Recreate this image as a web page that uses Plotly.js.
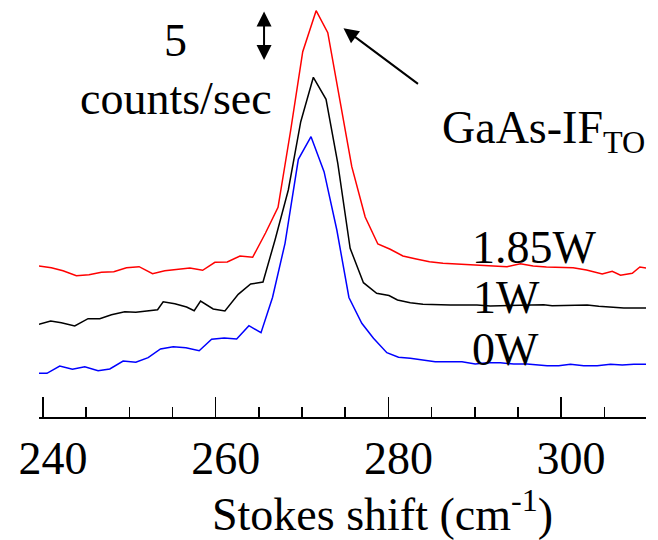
<!DOCTYPE html>
<html>
<head>
<meta charset="utf-8">
<script src="https://cdn.plot.ly/plotly-3.0.1.min.js"></script>
<style>html,body{margin:0;padding:0;background:#fff;}#chart{width:658px;height:540px;}</style>
</head>
<body>
<div id="chart"></div>
<script>
// Stokes shift (cm^-1) sample positions, read per series
const xRed = [239.54,240.97,242.32,243.87,245.33,246.77,248.2,249.67,251.13,252.69,254.11,255.54,257.01,258.49,259.91,261.34,262.81,264.28,265.77,267.22,268.67,270.08,271.63,272.98,274.41,275.76,277.31,278.78,280.21,281.68,283.22,284.76,286.32,287.86,289.4,290.84,292.38,293.74,295.28,296.76,298.3,299.84,301.39,302.94,304.76,305.92,306.88,308.24,309.12,309.86];
const yRed = [15.1,14.93,14.63,14.13,14.23,14.47,14.53,14.93,15.03,14.33,14.63,14.8,14.9,14.67,15.47,15.5,16.1,15.97,18.4,20.97,28.6,36.53,40.63,38.43,31.7,25.03,20.0,17.3,16.77,16.1,15.8,15.53,15.37,15.3,15.23,15.2,15.13,15.03,15.33,15.1,15.0,14.97,14.93,14.7,14.3,14.57,14.17,14.37,15.0,14.9];

const xBlack = [239.54,240.89,242.13,243.68,245.22,246.58,247.93,249.47,250.75,251.99,253.27,253.92,255.27,256.63,257.51,258.25,259.71,261.07,262.61,264.05,265.48,266.87,268.41,269.85,271.31,272.78,274.14,275.57,277.11,278.64,280.07,281.05,282.53,284.0,285.62,287.16,288.71,290.26,291.8,293.35,294.9,296.44,297.98,298.96,300.3,301.46,303.02,304.36,305.92,307.26,308.42,309.86];
const yBlack = [9.27,9.6,9.43,9.1,9.83,9.83,10.23,10.53,10.47,10.6,10.73,11.53,11.33,11.0,10.63,11.6,10.8,10.6,12.27,13.3,13.5,17.7,22.7,29.53,33.97,31.77,25.37,16.87,13.43,12.37,12.15,11.7,11.43,11.27,11.2,11.2,11.2,11.2,11.1,11.13,11.17,11.17,11.23,11.13,11.13,11.17,11.2,11.07,10.97,10.9,10.9,10.9];

const xBlue = [239.54,240.46,241.94,243.41,244.84,246.38,247.74,249.28,250.75,252.18,253.61,255.08,256.55,258.09,259.53,260.99,262.43,263.85,265.25,266.58,268.03,269.57,271.04,272.55,274.03,275.43,276.92,278.27,279.82,281.17,282.53,283.88,285.42,286.97,288.52,290.06,291.42,292.96,294.51,296.06,298.38,299.72,301.08,302.62,304.18,305.72,307.08,308.42,309.86];
const yBlue = [4.37,4.37,5.1,4.77,5.03,4.63,4.8,5.6,5.47,5.93,6.8,7.03,6.93,6.63,7.77,7.9,7.8,9.13,8.43,11.95,17.37,25.77,28.03,24.53,18.7,11.95,9.37,7.87,6.43,5.97,5.87,5.7,5.53,5.53,5.53,5.3,5.43,5.43,5.3,5.3,5.13,5.13,5.27,5.13,5.13,5.27,5.2,5.27,5.27];

const tickVals = [240, 260, 280, 300];
const tickText = ['240', '260', '280', '300'];
const seriesLabels = ['1.85W', '1W', '0W'];

const FONT = 'Liberation Serif';

const traces = [
  {x: xRed, y: yRed, mode: 'lines', line: {color: '#ff0000', width: 1.5}, hoverinfo: 'skip'},
  {x: xBlack, y: yBlack, mode: 'lines', line: {color: '#000000', width: 1.5}, hoverinfo: 'skip'},
  {x: xBlue, y: yBlue, mode: 'lines', line: {color: '#0000ff', width: 1.5}, hoverinfo: 'skip'}
];

const txt = (text, x, y, xanchor, extra) => Object.assign({
  text: text, x: x, y: y, xref: 'x', yref: 'y', showarrow: false,
  xanchor: xanchor, yanchor: 'middle', font: {family: FONT, size: 46, color: '#000'}
}, extra || {});

const layout = {
  width: 658, height: 540,
  margin: {l: 39, r: 12, t: 0, b: 123},
  paper_bgcolor: '#fff', plot_bgcolor: '#fff',
  showlegend: false,
  font: {family: FONT, size: 46, color: '#000'},
  xaxis: {
    range: [239.54, 309.83],
    showgrid: false, zeroline: false,
    showline: true, linecolor: '#000', linewidth: 2,
    ticks: 'inside', ticklen: 20, tickwidth: 1.5, tickcolor: '#000',
    tickvals: tickVals, ticktext: tickText,
    ticklabelshift: 10,
    tickfont: {family: FONT, size: 46, color: '#000'},
    minor: {dtick: 5, tick0: 240, ticks: 'inside', ticklen: 10, tickwidth: 1.5, tickcolor: '#000', showgrid: false}
  },
  yaxis: {range: [0, 41.7], visible: false, showgrid: false, zeroline: false},
  annotations: [
    txt(seriesLabels[0], 289.5, 17.0, 'left'),
    txt(seriesLabels[1], 289.6, 11.95, 'left'),
    txt(seriesLabels[2], 289.5, 6.75, 'left'),
    txt('5', 255.4, 37.7, 'center'),
    txt('counts/sec', 255.4, 31.9, 'center'),
    txt('GaAs-IF<sub>TO</sub>', 286.0, 28.6, 'left'),
    txt('Stokes shift (cm<sup>-1</sup>)', 279.3, -0.225, 'center', {yref: 'paper'}),
    {x: 265.6, y: 35.7, ax: 265.6, ay: 40.7, axref: 'x', ayref: 'y', xref: 'x', yref: 'y',
     text: '', showarrow: true, arrowhead: 2, startarrowhead: 2, arrowside: 'end+start',
     arrowsize: 1.5, startarrowsize: 1.5, arrowwidth: 2, arrowcolor: '#000', standoff: 0, startstandoff: 0},
    {x: 274.8, y: 38.87, ax: 283.6, ay: 33.2, axref: 'x', ayref: 'y', xref: 'x', yref: 'y',
     text: '', showarrow: true, arrowhead: 2, arrowsize: 1.5, arrowwidth: 2, arrowcolor: '#000', standoff: 0}
  ]
};

Plotly.newPlot('chart', traces, layout, {displayModeBar: false, staticPlot: true});
</script>
</body>
</html>
